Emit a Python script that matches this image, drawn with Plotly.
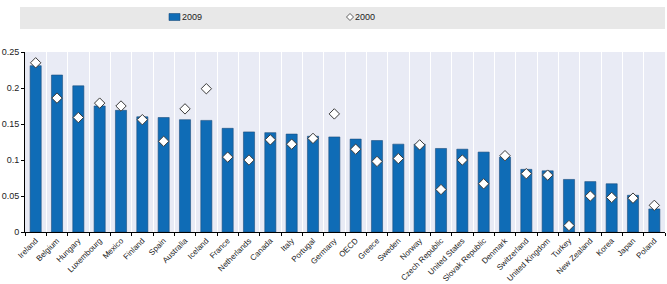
import plotly.graph_objects as go

countries = ["Ireland", "Belgium", "Hungary", "Luxembourg", "Mexico", "Finland", "Spain",
             "Australia", "Iceland", "France", "Netherlands", "Canada", "Italy", "Portugal",
             "Germany", "OECD", "Greece", "Sweden", "Norway", "Czech Republic", "United States",
             "Slovak Republic", "Denmark", "Switzerland", "United Kingdom", "Turkey",
             "New Zealand", "Korea", "Japan", "Poland"]
v2009 = [0.231, 0.218, 0.203, 0.175, 0.169, 0.160, 0.159, 0.156, 0.155, 0.144, 0.139, 0.138,
         0.136, 0.133, 0.132, 0.129, 0.127, 0.122, 0.122, 0.116, 0.115, 0.111, 0.104, 0.087,
         0.085, 0.073, 0.070, 0.067, 0.051, 0.032]
v2000 = [0.235, 0.186, 0.159, 0.179, 0.175, 0.156, 0.126, 0.171, 0.199, 0.104, 0.100, 0.128,
         0.122, 0.130, 0.164, 0.115, 0.098, 0.102, 0.121, 0.059, 0.100, 0.067, 0.106, 0.081,
         0.079, 0.009, 0.050, 0.048, 0.047, 0.037]
yticks = [0, 0.05, 0.1, 0.15, 0.2, 0.25]
ytick_labels = ["0", "0.05", "0.1", "0.15", "0.2", "0.25"]
series_names = ["2009", "2000"]

FONT = "Liberation Sans, Arial, sans-serif"
BLUE = "#0f6cb6"

W, H = 667, 284
ML, MR, MT, MB = 25, 2, 52, 52
PW, PH = W - ML - MR, H - MT - MB


def px(x):
    return (x - ML) / PW


def py(y):
    return (H - MB - y) / PH


fig = go.Figure()
fig.add_trace(go.Bar(
    x=countries, y=v2009, name=series_names[0],
    marker=dict(color=BLUE, line=dict(color="#1d4e7c", width=0.6)),
))
fig.add_trace(go.Scatter(
    x=countries, y=v2000, name=series_names[1], mode="markers",
    marker=dict(symbol="diamond", size=8, color="white", line=dict(color="#3a3a3a", width=1)),
))

# legend band
fig.add_shape(type="rect", xref="paper", yref="paper", x0=px(20), x1=px(665), y0=py(29), y1=py(7),
              fillcolor="#e8e8e8", line=dict(width=0), layer="below")
# 2009 swatch
fig.add_shape(type="rect", xref="paper", yref="paper", x0=px(169), x1=px(180), y0=py(20.5), y1=py(13.5),
              fillcolor=BLUE, line=dict(color="#1d4e7c", width=0.6))
# 2000 diamond
cx, cy, r = 350, 17, 3.5
fig.add_shape(type="path", xref="paper", yref="paper",
              path=f"M {px(cx - r)} {py(cy)} L {px(cx)} {py(cy - r)} L {px(cx + r)} {py(cy)} L {px(cx)} {py(cy + r)} Z",
              fillcolor="white", line=dict(color="#3a3a3a", width=0.8))
fig.add_annotation(x=px(180), y=py(17), xref="paper", yref="paper", text=series_names[0],
                   showarrow=False, xanchor="left", yanchor="middle", font=dict(size=9, color="#222"))
fig.add_annotation(x=px(353), y=py(17), xref="paper", yref="paper", text=series_names[1],
                   showarrow=False, xanchor="left", yanchor="middle", font=dict(size=9, color="#222"))

fig.update_layout(
    width=W, height=H,
    margin=dict(l=ML, r=MR, t=MT, b=MB, autoexpand=False),
    paper_bgcolor="white",
    plot_bgcolor="#e9ebf5",
    bargap=0.48,
    font=dict(family=FONT, size=9, color="#222"),
    showlegend=False,
    xaxis=dict(
        type="category", tickangle=-45, showline=True, linecolor="black", linewidth=1,
        ticks="outside", ticklen=3, tickcolor="black", tickson="boundaries",
        showgrid=True, gridcolor="white", gridwidth=1, automargin=False,
        tickfont=dict(family=FONT, size=8), range=[-0.5, len(countries) - 0.5],
    ),
    yaxis=dict(
        range=[0, 0.25], tickvals=yticks, ticktext=ytick_labels, automargin=False,
        showline=True, linecolor="black", linewidth=1, ticks="outside", ticklen=3,
        tickcolor="black", showgrid=False, zeroline=False,
        tickfont=dict(family=FONT, size=9),
    ),
)

fig.write_html("out.html")
